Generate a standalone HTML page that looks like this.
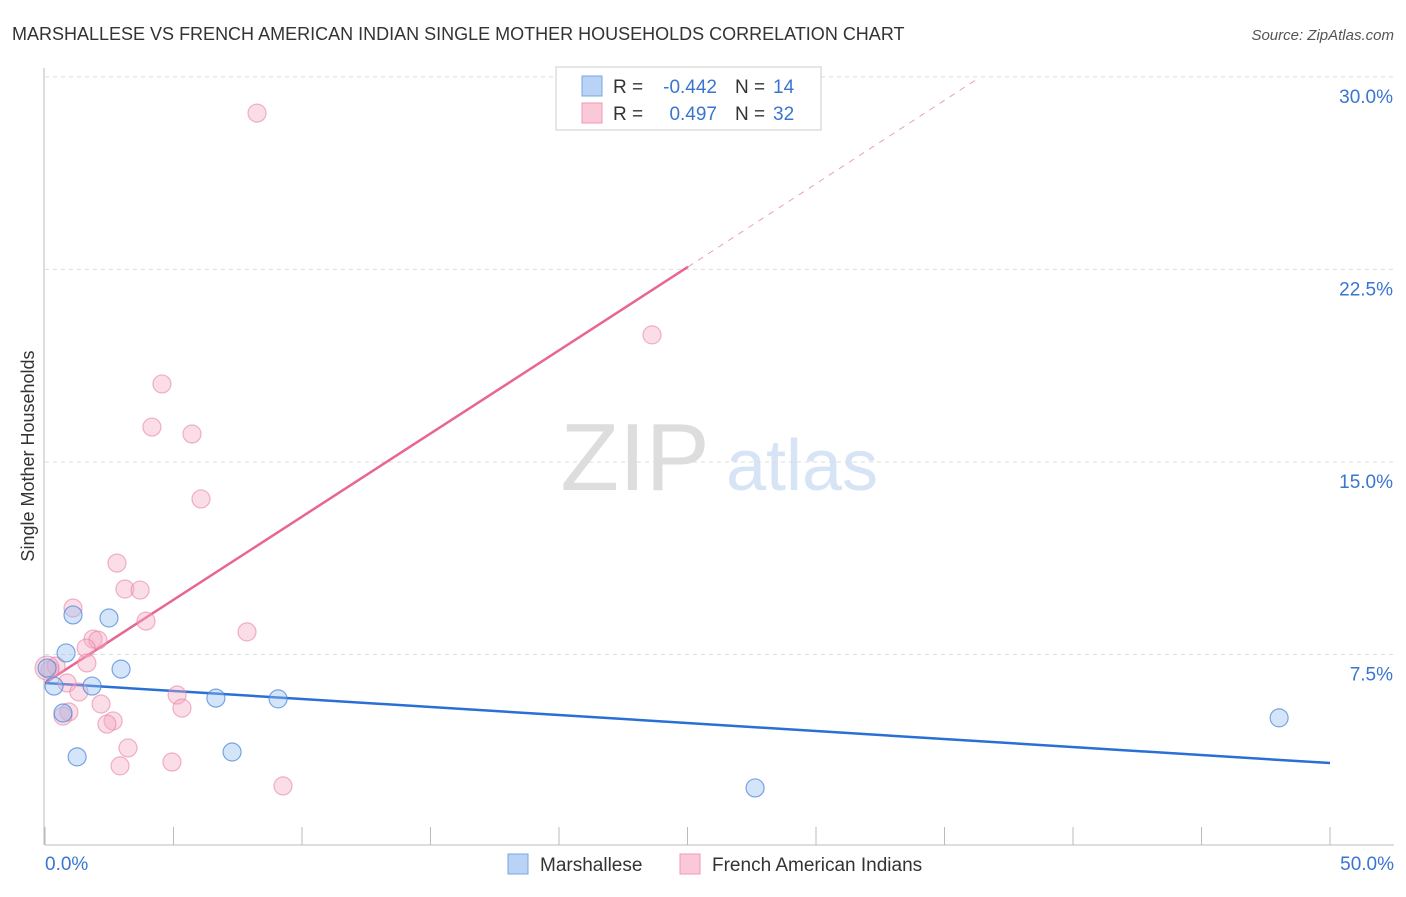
<!DOCTYPE html>
<html><head><meta charset="utf-8"><style>
body{margin:0;background:#fff;font-family:"Liberation Sans",sans-serif;}
svg text{font-family:"Liberation Sans",sans-serif;}
</style></head><body>
<svg id="chart" width="1406" height="892">
<text x="12" y="40" font-size="18" fill="#333">MARSHALLESE VS FRENCH AMERICAN INDIAN SINGLE MOTHER HOUSEHOLDS CORRELATION CHART</text>
<text x="1394" y="40" font-size="15" fill="#555" font-style="italic" text-anchor="end">Source: ZipAtlas.com</text>
<text x="34" y="456" font-size="18" fill="#333" transform="rotate(-90 34 456)" text-anchor="middle">Single Mother Households</text>
<g><text x="635" y="490" font-size="96" fill="#ddd" font-family="Liberation Serif" text-anchor="middle">ZIP</text><text x="802" y="490" font-size="72" fill="#d6e4f5" text-anchor="middle">atlas</text></g>
<g id="grid"></g><g id="axes"></g><g id="lines"></g><g id="pts"></g>
<g>
<rect x="556" y="67" width="265" height="63" fill="#fff" stroke="#ccc"/>
<rect x="582" y="76" width="20" height="20" fill="#b8d3f5" stroke="#7aa7e0"/>
<rect x="582" y="103" width="20" height="20" fill="#fbc8d8" stroke="#ef9ab6"/>
<text x="613" y="93" font-size="19" fill="#333">R =</text>
<text x="717" y="93" font-size="19" fill="#3a75d0" text-anchor="end">-0.442</text>
<text x="735" y="93" font-size="19" fill="#333">N =</text>
<text x="773" y="93" font-size="19" fill="#3a75d0">14</text>
<text x="613" y="120" font-size="19" fill="#333">R =</text>
<text x="717" y="120" font-size="19" fill="#3a75d0" text-anchor="end">0.497</text>
<text x="735" y="120" font-size="19" fill="#333">N =</text>
<text x="773" y="120" font-size="19" fill="#3a75d0">32</text>
</g>
<g>
<rect x="508" y="854" width="20" height="20" fill="#b8d3f5" stroke="#7aa7e0"/>
<text x="540" y="871" font-size="19" fill="#333">Marshallese</text>
<rect x="680" y="854" width="20" height="20" fill="#fbc8d8" stroke="#ef9ab6"/>
<text x="712" y="871" font-size="19" fill="#333">French American Indians</text>
</g>
</svg>
<script>
const yTicks=[7.5,15,22.5,30];
const yTickLabels=["7.5%","15.0%","22.5%","30.0%"];
const blueX=[0.08,0.35,1.09,0.82,0.70,1.25,1.83,2.49,2.96,6.65,7.28,9.07,27.63,48.02];
const blueY=[6.97,6.27,9.04,7.56,5.22,3.51,6.27,8.92,6.93,5.80,3.70,5.77,2.30,5.03];
const pinkX=[8.25,23.62,4.55,4.16,5.72,6.07,2.80,3.11,3.70,1.09,3.93,7.86,1.87,2.06,1.60,1.63,0.43,0.19,0.86,1.32,5.14,5.33,2.18,0.93,0.70,2.65,2.41,3.23,4.94,2.92,9.26,0.08];
const pinkY=[28.59,19.95,18.04,16.36,16.09,13.56,11.06,10.05,10.01,9.31,8.80,8.38,8.10,8.06,7.75,7.17,7.05,6.90,6.39,6.04,5.92,5.41,5.57,5.26,5.10,4.91,4.79,3.86,3.31,3.16,2.38,6.97];
const blueTrend=[[0,6.39],[50,3.27]];
const pinkTrend=[[0,6.39],[25.02,22.6]];
const pinkDash=[[25.02,22.6],[36.2,29.87]];
const NS="http://www.w3.org/2000/svg";
const sx=v=>45+v*25.7, sy=v=>847-v*25.67;
function mk(t,a,p){const e=document.createElementNS(NS,t);for(const k in a)e.setAttribute(k,a[k]);document.getElementById(p).appendChild(e);return e;}
yTicks.forEach((t,i)=>{
 const g=mk('line',{x1:45,x2:1394,y1:sy(t),y2:sy(t),stroke:'#ddd','stroke-dasharray':'4,4'},'grid');
 
 
 const l=mk('text',{x:1393,y:sy(t)+26,'font-size':19,fill:'#3a75d0','text-anchor':'end'},'axes');
 l.textContent=yTickLabels[i];
 
 
});
const ax=mk('line',{x1:45,x2:1394,y1:845,y2:845,stroke:'#bbb'},'axes');


const ay=mk('line',{x1:44,x2:44,y1:68,y2:845,stroke:'#bbb'},'axes');


for(let i=0;i<=10;i++){const t=mk('line',{x1:sx(i*5),x2:sx(i*5),y1:827,y2:845,stroke:'#bbb'},'axes');
 
 }
[["0.0%",45,'start'],["50.0%",1394,'end']].forEach(d=>{const l=mk('text',{x:d[1],y:870,'font-size':19,fill:'#3a75d0','text-anchor':d[2]},'axes');l.textContent=d[0];
 
 });
function ln(p,c,dash,name){const e=mk('line',{x1:sx(p[0][0]),y1:sy(p[0][1]),x2:sx(p[1][0]),y2:sy(p[1][1]),stroke:c,'stroke-width':dash?1:2.5,'stroke-dasharray':dash?'6,6':''},'lines');
 
 }
ln(blueTrend,'#2a6fd6',false,'marshallese-trend-line');
ln(pinkTrend,'#e8668f',false,'french-american-indian-trend-line');
ln(pinkDash,'#e8a0b8',true,'french-american-indian-trend-extension');
pinkX.forEach((x,i)=>{const c=mk('circle',{cx:sx(x),cy:sy(pinkY[i]),r:i==31?12:9,fill:'rgba(246,170,196,0.4)',stroke:'rgba(232,130,165,0.6)','stroke-width':1.2},'pts');
 
 });
blueX.forEach((x,i)=>{const c=mk('circle',{cx:sx(x),cy:sy(blueY[i]),r:9,fill:'rgba(150,190,240,0.4)',stroke:'rgba(70,130,215,0.7)','stroke-width':1.2},'pts');
 
 });
</script>
</body></html>
